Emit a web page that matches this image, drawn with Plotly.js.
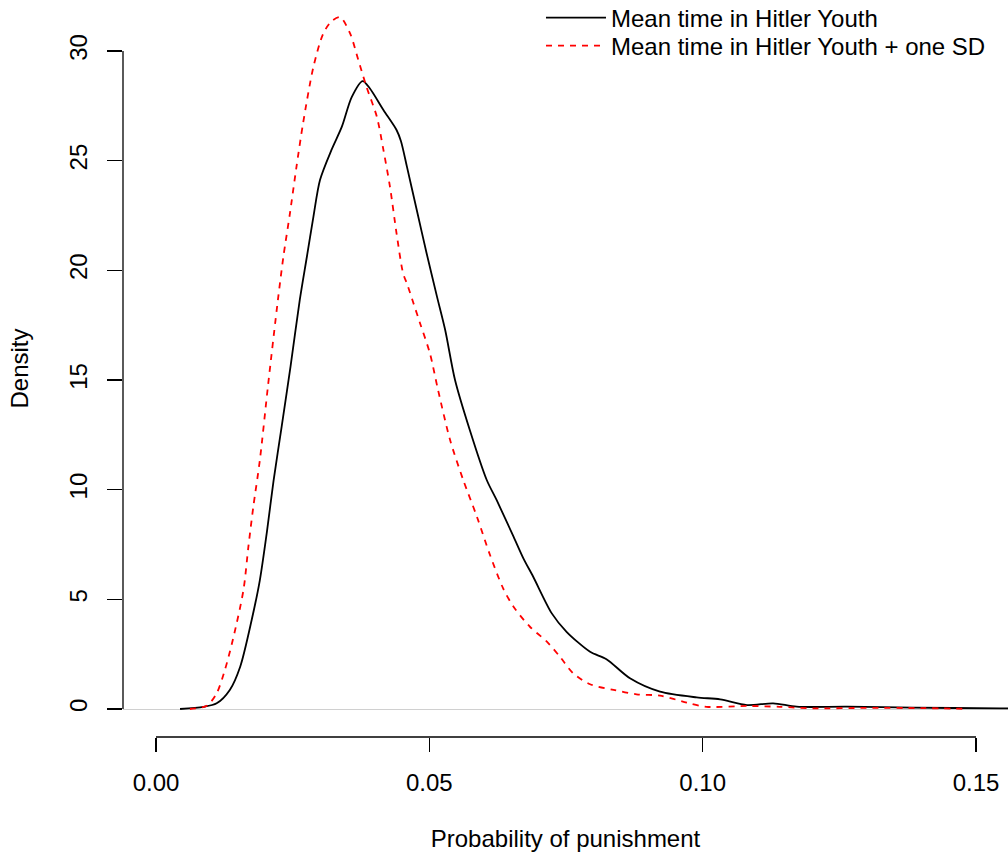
<!DOCTYPE html>
<html>
<head>
<meta charset="utf-8">
<script src="https://cdn.plot.ly/plotly-3.0.1.min.js"></script>
<style>html,body{margin:0;padding:0;background:#fff;}#chart{width:1008px;height:852px;}</style>
</head>
<body>
<div id="chart"></div>
<script>
// Series names
const seriesNames = ["Mean time in Hitler Youth", "Mean time in Hitler Youth + one SD"];

// Black solid curve: mean time in Hitler Youth
const blackX = [0.0044,0.0087,0.0111,0.0135,0.0154,0.0175,0.0190,0.0203,0.0215,0.0230,0.0246,0.0263,0.0276,0.0288,0.0300,0.0321,0.0340,0.0358,0.0378,0.0391,0.0416,0.0440,0.0448,0.0459,0.0477,0.0495,0.0514,0.0529,0.0547,0.0574,0.0605,0.0623,0.0654,0.0672,0.0690,0.0724,0.0751,0.0794,0.0824,0.0867,0.0922,0.0989,0.1032,0.1081,0.1129,0.1172,0.1264,0.1385,0.1544,0.1570];
const blackY = [0,0.10,0.26,0.87,1.93,4.06,5.88,8.1,10.4,12.9,15.6,18.65,20.62,22.45,24.12,25.49,26.55,27.9,28.63,28.3,27.31,26.4,25.9,24.73,22.75,20.78,18.8,17.28,15.0,12.72,10.44,9.53,7.86,6.87,6.03,4.36,3.52,2.61,2.27,1.40,0.79,0.53,0.44,0.18,0.26,0.105,0.105,0.06,0.03,0.02];

// Red dashed curve: mean time + one SD
const redX = [0.0062,0.0093,0.0111,0.0126,0.0141,0.0160,0.0169,0.0178,0.0190,0.0205,0.0223,0.0233,0.0245,0.0257,0.0269,0.0288,0.0306,0.0321,0.0337,0.0355,0.0370,0.0385,0.0404,0.0416,0.0428,0.0440,0.0452,0.0460,0.0471,0.0483,0.0501,0.0516,0.0538,0.0562,0.0587,0.0611,0.0635,0.0654,0.0684,0.0715,0.0739,0.0763,0.0794,0.0837,0.0879,0.0922,0.0971,0.1007,0.1081,0.1141,0.1202,0.1300,0.1400,0.1480];
const redY = [0,0.15,0.72,1.78,3.2,5.43,7.4,9.22,11.35,14.77,18.65,20.62,22.6,24.73,26.7,29.28,30.8,31.35,31.54,30.8,29.6,28.37,27.0,25.49,23.81,21.69,19.87,19.33,18.5,17.59,16.22,14.54,12.26,10.44,8.77,7.02,5.50,4.66,3.75,3.07,2.38,1.63,1.13,0.87,0.67,0.61,0.29,0.10,0.14,0.10,0.03,0.05,0.04,0.01];

// Axis ticks
const xTickVals = [0, 0.05, 0.10, 0.15];
const xTickText = ["0.00", "0.05", "0.10", "0.15"];
const yTickVals = [0, 5, 10, 15, 20, 25, 30];
const yTickText = ["0", "5", "10", "15", "20", "25", "30"];

const FONT = "Liberation Sans, Arial, Helvetica, sans-serif";

const traces = [
  {x: blackX, y: blackY, type: "scatter", mode: "lines", name: seriesNames[0], legend: "legend",
   line: {color: "#000000", width: 1.8, shape: "spline", smoothing: 0.8}},
  {x: redX, y: redY, type: "scatter", mode: "lines", name: seriesNames[1], legend: "legend2",
   line: {color: "#ff0000", width: 1.8, dash: "6px,6px", shape: "spline", smoothing: 0.8}}
];

const legendBase = {
  x: 0.4723, xanchor: "left", yanchor: "middle",
  font: {family: FONT, size: 24, color: "#000"},
  bgcolor: "rgba(0,0,0,0)", borderwidth: 0, itemwidth: 60
};

const layout = {
  width: 1008, height: 852,
  margin: {l: 123, r: 0, t: 0, b: 115, pad: 0, autoexpand: false},
  paper_bgcolor: "#ffffff", plot_bgcolor: "#ffffff",
  font: {family: FONT, size: 24, color: "#000000"},
  showlegend: true,
  legend: Object.assign({}, legendBase, {y: 0.9756}),
  legend2: Object.assign({}, legendBase, {y: 0.9376}),
  xaxis: {
    range: [-0.006037, 0.155852], autorange: false,
    tickmode: "array", tickvals: xTickVals, ticktext: xTickText,
    ticks: "outside", ticklen: 14, tickwidth: 1.3, tickcolor: "#000",
    showline: false, showgrid: false, zeroline: false,
    tickfont: {family: FONT, size: 24, color: "#000"},
    ticklabelstandoff: 10,
    title: {text: "Probability of punishment", font: {family: FONT, size: 24, color: "#000"}, standoff: 35},
    automargin: false
  },
  yaxis: {
    range: [-1.2766, 32.326], autorange: false,
    tickmode: "array", tickvals: yTickVals, ticktext: yTickText,
    ticks: "outside", ticklen: 15, tickwidth: 1.3, tickcolor: "#000",
    tickangle: -90,
    showline: false, showgrid: false,
    zeroline: true, zerolinecolor: "#d0d0d0", zerolinewidth: 1,
    tickfont: {family: FONT, size: 24, color: "#000"},
    ticklabelstandoff: 10,
    title: {text: "Density", font: {family: FONT, size: 24, color: "#000"}, standoff: 30},
    automargin: false
  },
  shapes: [
    {type: "line", xref: "x", yref: "paper", x0: xTickVals[0], x1: xTickVals[xTickVals.length-1], y0: 0, y1: 0,
     line: {color: "#000", width: 1.3}},
    {type: "line", xref: "paper", yref: "y", x0: 0, x1: 0, y0: yTickVals[0], y1: yTickVals[yTickVals.length-1],
     line: {color: "#000", width: 1.3}}
  ]
};

Plotly.newPlot("chart", traces, layout, {displayModeBar: false, staticPlot: true});
</script>
</body>
</html>
